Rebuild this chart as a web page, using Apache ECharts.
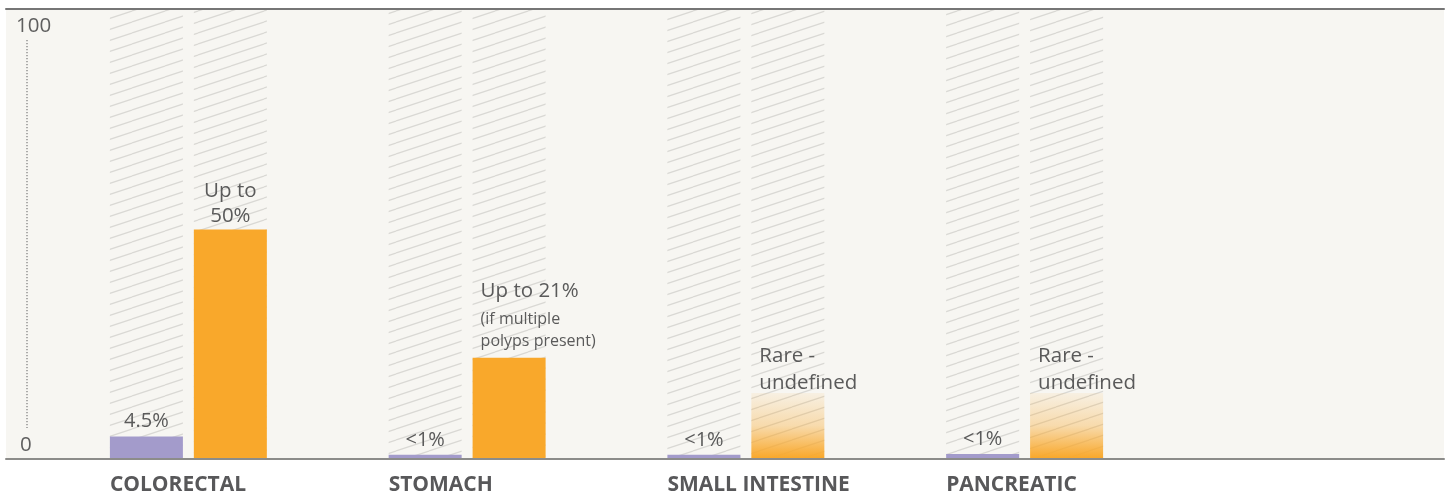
<!DOCTYPE html>
<html>
<head>
<meta charset="utf-8">
<script src="https://cdn.jsdelivr.net/npm/echarts@6/dist/echarts.min.js"></script>
<style>
html,body{margin:0;padding:0;background:#ffffff;}
#chart{width:1449px;height:499px;}
</style>
</head>
<body>
<div id="chart"></div>
<script>
// ---- data ----
const categories = ['COLORECTAL', 'STOMACH', 'SMALL INTESTINE', 'PANCREATIC'];
const generalPopulation = [4.8, 0.7, 0.7, 0.9];
const generalLabels = ['4.5%', '<1%', '<1%', '<1%'];
const syndromeRisk = [51, 22.4, 14.5, 14.5];
const syndromeDefined = [true, true, false, false];
const syndromeMain = ['Up to\n50%', 'Up to 21%', 'Rare -\nundefined', 'Rare -\nundefined'];
const syndromeNote = ['', '(if multiple\npolyps present)', '', ''];
const yTicks = [0, 100];

// ---- styles ----
const BG = '#f7f6f2';
const PURPLE = '#a39bcb';
const ORANGE = '#f9a82b';
const TEXT = '#5a5a5a';
const FONT = '"Open Sans", "Noto Sans", sans-serif';

// hatch pattern
const tile = document.createElement('canvas');
const TW = 33, TH = 11;
tile.width = TW; tile.height = TH;
const ctx = tile.getContext('2d');
ctx.strokeStyle = '#d9d8d4';
ctx.lineWidth = 1.2;
for (let k = -1; k <= 1; k++) {
  ctx.beginPath();
  ctx.moveTo(0, TH + k * TH);
  ctx.lineTo(TW, k * TH);
  ctx.stroke();
}
const hatch = { image: tile, repeat: 'repeat' };

const chart = echarts.init(document.getElementById('chart'), null, { renderer: 'canvas' });

const fadeOrange = new echarts.graphic.LinearGradient(0, 0, 0, 1, [
  { offset: 0, color: 'rgba(249,168,43,0.08)' },
  { offset: 0.5, color: 'rgba(249,168,43,0.35)' },
  { offset: 1, color: 'rgba(249,168,43,1)' }
]);

const orangeData = syndromeRisk.map((v, i) => {
  const centered = i === 0;
  const mainStyle = centered ? 'a' : (syndromeNote[i] ? 'h' : 'r');
  let text = syndromeMain[i].split('\n').map(s => '{' + mainStyle + '|' + s + '}').join('\n');
  if (syndromeNote[i]) {
    text += '\n' + syndromeNote[i].split('\n').map(s => '{b|' + s + '}').join('\n');
  }
  return {
    value: v,
    itemStyle: { color: syndromeDefined[i] ? ORANGE : fadeOrange },
    label: centered ? {
      show: true, position: 'top', distance: 1, align: 'center',
      formatter: text
    } : {
      show: true, position: [8, syndromeDefined[i] ? -5 : 4], align: 'left', verticalAlign: 'bottom',
      formatter: text
    }
  };
});

const option = {
  backgroundColor: '#ffffff',
  animation: false,
  grid: [
    { left: 6, right: 5, top: 9, bottom: 40, show: true, backgroundColor: BG, borderWidth: 0 },
    { left: 49, right: 285, top: 10, bottom: 41 }
  ],
  xAxis: [
    { gridIndex: 0, type: 'value', min: 0, max: 1, position: 'bottom',
      axisLine: { show: true, lineStyle: { color: '#8c8c8a', width: 2 } },
      axisTick: { show: false }, axisLabel: { show: false }, splitLine: { show: false } },
    { gridIndex: 0, type: 'value', min: 0, max: 1, position: 'top',
      axisLine: { show: true, lineStyle: { color: '#767676', width: 2 } },
      axisTick: { show: false }, axisLabel: { show: false }, splitLine: { show: false } },
    { gridIndex: 1, type: 'category', data: categories,
      axisLine: { show: false }, axisTick: { show: false },
      axisLabel: {
        margin: 17,
        formatter: v => '{c|' + v + '}',
        rich: { c: { width: 157, align: 'left', fontFamily: FONT, fontWeight: 'bold', fontSize: 21, color: '#58585a' } }
      } }
  ],
  yAxis: [
    { gridIndex: 0, type: 'value', min: yTicks[0], max: yTicks[1], interval: yTicks[1] - yTicks[0],
      axisLine: { show: false }, axisTick: { show: false }, splitLine: { show: false },
      axisLabel: {
        inside: true, margin: 10, color: '#5f5f5f', fontFamily: FONT, fontSize: 20,
        formatter: v => v === yTicks[1] ? '{t|' + v + '}' : '{b|' + v + '}',
        rich: {
          t: { fontFamily: FONT, fontSize: 20.5, color: '#5f5f5f', padding: [35, 0, 0, 0] },
          b: { fontFamily: FONT, fontSize: 20.5, color: '#5f5f5f', padding: [0, 0, 27, 4] }
        }
      } },
    { gridIndex: 1, type: 'value', min: 0, max: 100, show: false }
  ],
  series: [
    {
      type: 'bar', xAxisIndex: 2, yAxisIndex: 1, barWidth: 73, barGap: '15%',
      data: generalPopulation,
      itemStyle: { color: PURPLE },
      showBackground: true,
      backgroundStyle: { color: hatch },
      label: {
        show: true, position: 'top', distance: 5,
        formatter: p => generalLabels[p.dataIndex],
        fontFamily: FONT, fontSize: 20, color: TEXT
      }
    },
    {
      type: 'bar', xAxisIndex: 2, yAxisIndex: 1, barWidth: 73, barGap: '15%',
      data: orangeData,
      showBackground: true,
      backgroundStyle: { color: hatch },
      label: {
        show: true,
        rich: {
          a: { fontFamily: FONT, fontSize: 20.5, color: TEXT, lineHeight: 25 },
          r: { fontFamily: FONT, fontSize: 20.5, color: TEXT, lineHeight: 27 },
          h: { fontFamily: FONT, fontSize: 20.5, color: TEXT, lineHeight: 35 },
          b: { fontFamily: FONT, fontSize: 16, color: TEXT, lineHeight: 22 }
        }
      }
    }
  ],
  graphic: [
    { type: 'line', shape: { x1: 27, y1: 40, x2: 27, y2: 428 },
      style: { stroke: '#7a7a7a', lineWidth: 1.2, lineDash: [1.2, 1.8] }, z: 10 }
  ]
};
chart.setOption(option);
</script>
</body>
</html>
